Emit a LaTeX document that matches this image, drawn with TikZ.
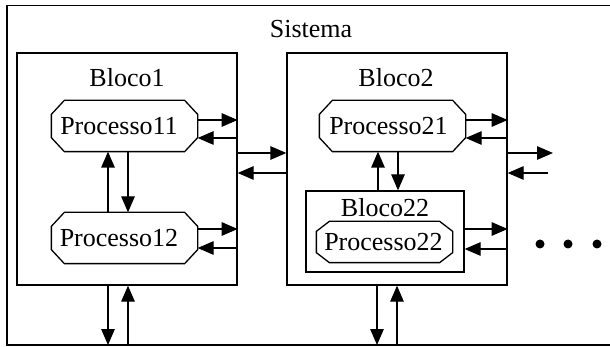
\documentclass[tikz,border=0pt]{standalone}
\usepackage{fontspec}
\setmainfont{Liberation Serif}
\usetikzlibrary{arrows.meta,calc}
\newcommand\octagonof[3]{%
  \draw ($(#1.north west)+(#2,0)$) -- ($(#1.north east)+(-#2,0)$)
    -- ($(#1.north east)+(0,#3)$) -- ($(#1.south east)+(0,-#3)$)
    -- ($(#1.south east)+(-#2,0)$) -- ($(#1.south west)+(#2,0)$)
    -- ($(#1.south west)+(0,-#3)$) -- ($(#1.north west)+(0,#3)$) -- cycle;}
\begin{document}
\begin{tikzpicture}[x=1pt,y=-1pt,
  line width=1.3pt,
  every node/.style={font=\fontsize{26}{30}\selectfont},
  proc/.style={rectangle, inner sep=0pt, minimum width=145pt, minimum height=50pt},
  blk/.style={draw, rectangle, inner sep=0pt},
  arr/.style={-{Triangle[length=16pt,width=13.5pt]}},
  lbl/.style={anchor=base, inner sep=0pt}
]
\useasboundingbox (0,0) rectangle (610,347);
% outer system frame (open at the right)
\coordinate (sysTR) at (611,5.5);
\coordinate (sysTL) at (7,5.5);
\coordinate (sysBL) at (7,345);
\coordinate (sysBR) at (611,345);
\draw[line width=1.6pt] (sysTR) -- (sysTL) -- (sysBL) -- (sysBR);
\node[lbl] (sys) at (311,38) {Sistema};

% blocks
\node[blk, minimum width=220pt, minimum height=232pt] (B1) at (127,169) {};
\node[blk, minimum width=220pt, minimum height=232pt] (B2) at (397,169) {};
\node[lbl] (B1l) at (127,87) {Bloco1};
\node[lbl] (B2l) at (396,87) {Bloco2};
\node[blk, minimum width=158pt, minimum height=81pt] (B22) at (385,231.5) {};
\node[lbl] (B22l) at (385,217) {Bloco22};

% processes (frames)
\node[proc] (P11) at (124.5,126) {};
\node[proc] (P12) at (124.5,238) {};
\node[proc] (P21) at (392.5,126) {};
\node[proc, minimum width=135pt, minimum height=40pt] (P22) at (384.5,242) {};
\octagonof{P11}{13}{14}
\octagonof{P12}{13}{14}
\octagonof{P21}{13}{14}
\octagonof{P22}{13}{10}
% process names
\node[lbl] (P11t) at (119,135) {Processo11};
\node[lbl] (P12t) at (119,247) {Processo12};
\node[lbl] (P21t) at (388.5,135) {Processo21};
\node[lbl] (P22t) at (383.5,251) {Processo22};

% P11 <-> Bloco1 border
\draw[arr] (P11.east |- 0,120) -- (B1.east |- 0,120);
\draw[arr] (B1.east |- 0,138) -- (P11.east |- 0,138);
% P12 <-> Bloco1 border
\draw[arr] (P12.east |- 0,229) -- (B1.east |- 0,229);
\draw[arr] (B1.east |- 0,248) -- (P12.east |- 0,248);
% P11 <-> P12
\draw[arr] (P12.north -| 108,0) -- (P11.south -| 108,0);
\draw[arr] (P11.south -| 128,0) -- (P12.north -| 128,0);
% Bloco1 <-> Bloco2
\draw[arr] (B1.east |- 0,153) -- (B2.west |- 0,153);
\draw[arr] (B2.west |- 0,173) -- (B1.east |- 0,173);
% P21 <-> Bloco2 border
\draw[arr] (P21.east |- 0,120) -- (B2.east |- 0,120);
\draw[arr] (B2.east |- 0,138) -- (P21.east |- 0,138);
% Bloco2 <-> outside
\coordinate (outR) at (553,153);
\coordinate (inR) at (548,173);
\draw[arr] (B2.east |- outR) -- (outR);
\draw[arr] (inR) -- (B2.east |- inR);
% P21 <-> Bloco22
\draw[arr] (B22.north -| 378,0) -- (P21.south -| 378,0);
\draw[arr] (P21.south -| 398,0) -- (B22.north -| 398,0);
% Bloco22 <-> Bloco2 border
\draw[arr] (B22.east |- 0,229) -- (B2.east |- 0,229);
\draw[arr] (B2.east |- 0,249) -- (B22.east |- 0,249);
% bottom connections
\draw[arr] (B1.south -| 108,0) -- (sysBL -| 108,0);
\draw[arr] (sysBL -| 128,0) -- (B1.south -| 128,0);
\draw[arr] (B2.south -| 377,0) -- (sysBL -| 377,0);
\draw[arr] (sysBL -| 397,0) -- (B2.south -| 397,0);
% ellipsis dots
\fill (540,244) circle (4.5pt);
\fill (568,244) circle (4.5pt);
\fill (597,244) circle (4.5pt);
\end{tikzpicture}
\end{document}
